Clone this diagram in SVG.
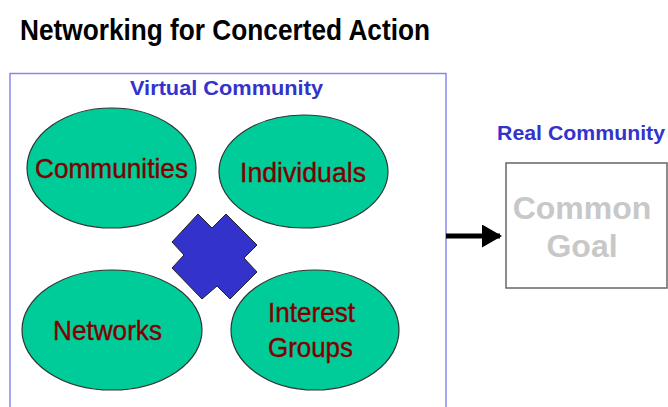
<svg xmlns="http://www.w3.org/2000/svg" width="668" height="407" viewBox="0 0 668 407">
<defs>
<style>
.title{font-family:"Liberation Sans",Arial,sans-serif;font-weight:bold;font-size:30px;fill:#000}
.blue{font-family:"Liberation Sans",Arial,sans-serif;font-weight:bold;font-size:21px;fill:#3333cc}
.ell{fill:#00cc99;stroke:#333;stroke-width:1.2}
.et{font-family:"Liberation Sans",Arial,sans-serif;font-size:28px;fill:#800000;stroke:#800000;stroke-width:0.4}
.goal{font-family:"Liberation Sans",Arial,sans-serif;font-weight:bold;font-size:32px;fill:#c8c8c8;text-anchor:middle}
</style>
<marker id="ah" markerWidth="4" markerHeight="4.6" refX="3.6" refY="2.3" orient="auto" markerUnits="strokeWidth">
<path d="M0,0 L4,2.3 L0,4.6 Z" fill="#000"/>
</marker>
</defs>
<rect width="668" height="407" fill="#fff"/>
<text class="title" x="20" y="40" textLength="410" lengthAdjust="spacingAndGlyphs">Networking for Concerted Action</text>
<g id="virtual-community">
<rect x="10" y="73.5" width="436" height="345" fill="none" stroke="#8888ee" stroke-width="1.5"/>
<text class="blue" x="130" y="95" textLength="193" lengthAdjust="spacingAndGlyphs">Virtual Community</text>
</g>
<g id="communities">
<ellipse class="ell" cx="111.5" cy="168" rx="84.5" ry="60"/>
<text class="et" x="35" y="178" textLength="153" lengthAdjust="spacingAndGlyphs">Communities</text>
</g>
<g id="individuals">
<ellipse class="ell" cx="303.5" cy="171.5" rx="84.5" ry="56.5"/>
<text class="et" x="240" y="182" textLength="126" lengthAdjust="spacingAndGlyphs">Individuals</text>
</g>
<g id="networks">
<ellipse class="ell" cx="112" cy="330" rx="90" ry="60"/>
<text class="et" x="53" y="340" textLength="109" lengthAdjust="spacingAndGlyphs">Networks</text>
</g>
<g id="interest-groups">
<ellipse class="ell" cx="315" cy="330" rx="84" ry="60"/>
<text class="et" x="268" y="322" textLength="87" lengthAdjust="spacingAndGlyphs">Interest</text>
<text class="et" x="268" y="357" textLength="85" lengthAdjust="spacingAndGlyphs">Groups</text>
</g>
<g id="cross">
<polygon points="198,214 212,228 226,214 257,245 244,258 257,272 230,299 217,286 202,299 172,268 184,255 172,242" fill="#3333cc" stroke="#222" stroke-width="1"/>
</g>
<g id="real-community">
<text class="blue" x="497" y="140" textLength="168" lengthAdjust="spacingAndGlyphs">Real Community</text>
<rect x="506" y="163" width="161" height="125" fill="#fff" stroke="#666" stroke-width="1.5"/>
<text class="goal" x="582" y="219">Common</text>
<text class="goal" x="582" y="257">Goal</text>
</g>
<g id="connectors">
<line x1="446" y1="236" x2="500" y2="236" stroke="#000" stroke-width="5" marker-end="url(#ah)"/>
</g>
</svg>
